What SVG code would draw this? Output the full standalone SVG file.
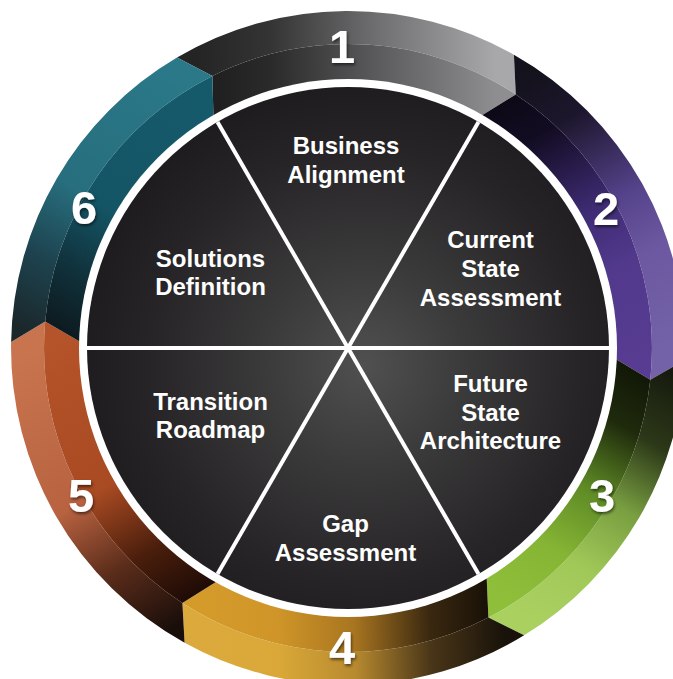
<svg xmlns="http://www.w3.org/2000/svg" width="673" height="679" viewBox="0 0 673 679">
<defs>
<style>
.lbl{font-family:"Liberation Sans",Arial,Helvetica,sans-serif;font-weight:bold;font-size:24px;fill:#ffffff;text-anchor:middle}
.num{font-family:"Liberation Sans",Arial,Helvetica,sans-serif;font-weight:bold;font-size:47px;fill:#ffffff;text-anchor:middle;filter:url(#sh)}
.spoke{stroke:#ffffff;stroke-width:4;fill:none}
</style>
<filter id="sh" x="-30%" y="-30%" width="160%" height="160%"><feDropShadow dx="1" dy="2" stdDeviation="1.5" flood-color="#000" flood-opacity="0.55"/></filter>
<radialGradient id="disk" cx="365" cy="365" r="290" gradientUnits="userSpaceOnUse">
<stop offset="0" stop-color="#505050"/><stop offset="0.35" stop-color="#3b3a3b"/><stop offset="0.75" stop-color="#262426"/><stop offset="1" stop-color="#1d1b1d"/>
</radialGradient>
<linearGradient id="g1o" gradientUnits="userSpaceOnUse" x1="195.7" y1="89.5" x2="495.7" y2="86.9"><stop offset="0" stop-color="#242424"/><stop offset="0.25" stop-color="#343434"/><stop offset="0.6" stop-color="#6e6e70"/><stop offset="1" stop-color="#a8a8aa"/></linearGradient>
<linearGradient id="g1i" gradientUnits="userSpaceOnUse" x1="195.7" y1="89.5" x2="495.7" y2="86.9"><stop offset="0" stop-color="#1c1c1c"/><stop offset="0.25" stop-color="#2a2a2a"/><stop offset="0.6" stop-color="#5a5a5c"/><stop offset="1" stop-color="#8e8e90"/></linearGradient>
<linearGradient id="g2o" gradientUnits="userSpaceOnUse" x1="495.7" y1="86.9" x2="647.8" y2="358.5"><stop offset="0" stop-color="#14121c"/><stop offset="0.2" stop-color="#1c162c"/><stop offset="0.5" stop-color="#54428a"/><stop offset="0.7" stop-color="#6b58a0"/><stop offset="1" stop-color="#7462a8"/></linearGradient>
<linearGradient id="g2i" gradientUnits="userSpaceOnUse" x1="495.7" y1="86.9" x2="647.8" y2="358.5"><stop offset="0" stop-color="#0a0812"/><stop offset="0.2" stop-color="#120c22"/><stop offset="0.5" stop-color="#3f2c75"/><stop offset="0.7" stop-color="#52398c"/><stop offset="1" stop-color="#573c92"/></linearGradient>
<linearGradient id="g3o" gradientUnits="userSpaceOnUse" x1="647.8" y1="358.5" x2="504.8" y2="603.8"><stop offset="0" stop-color="#161a0e"/><stop offset="0.25" stop-color="#2c3818"/><stop offset="0.5" stop-color="#789e40"/><stop offset="0.75" stop-color="#a0c858"/><stop offset="1" stop-color="#aad060"/></linearGradient>
<linearGradient id="g3i" gradientUnits="userSpaceOnUse" x1="647.8" y1="358.5" x2="504.8" y2="603.8"><stop offset="0" stop-color="#0d1205"/><stop offset="0.25" stop-color="#1f2a0c"/><stop offset="0.5" stop-color="#5e8a25"/><stop offset="0.75" stop-color="#86b535"/><stop offset="1" stop-color="#8fbf3a"/></linearGradient>
<linearGradient id="g4o" gradientUnits="userSpaceOnUse" x1="504.8" y1="603.8" x2="202.6" y2="610.4"><stop offset="0" stop-color="#18120a"/><stop offset="0.25" stop-color="#4a3618"/><stop offset="0.5" stop-color="#b88a30"/><stop offset="0.75" stop-color="#d9a838"/><stop offset="1" stop-color="#dcaa3c"/></linearGradient>
<linearGradient id="g4i" gradientUnits="userSpaceOnUse" x1="504.8" y1="603.8" x2="202.6" y2="610.4"><stop offset="0" stop-color="#0f0a04"/><stop offset="0.25" stop-color="#3a2810"/><stop offset="0.5" stop-color="#a87520"/><stop offset="0.75" stop-color="#cf9528"/><stop offset="1" stop-color="#d49a2a"/></linearGradient>
<linearGradient id="g5o" gradientUnits="userSpaceOnUse" x1="202.6" y1="610.4" x2="48" y2="342.8"><stop offset="0" stop-color="#1a0e0a"/><stop offset="0.25" stop-color="#5a2c1a"/><stop offset="0.5" stop-color="#b86240"/><stop offset="1" stop-color="#c8744e"/></linearGradient>
<linearGradient id="g5i" gradientUnits="userSpaceOnUse" x1="202.6" y1="610.4" x2="48" y2="342.8"><stop offset="0" stop-color="#120604"/><stop offset="0.25" stop-color="#4a1e0c"/><stop offset="0.5" stop-color="#a84a22"/><stop offset="1" stop-color="#b5532a"/></linearGradient>
<linearGradient id="g6o" gradientUnits="userSpaceOnUse" x1="48" y1="342.8" x2="195.7" y2="89.5"><stop offset="0" stop-color="#1a282c"/><stop offset="0.25" stop-color="#1e4450"/><stop offset="0.5" stop-color="#276e7e"/><stop offset="1" stop-color="#2a7888"/></linearGradient>
<linearGradient id="g6i" gradientUnits="userSpaceOnUse" x1="48" y1="342.8" x2="195.7" y2="89.5"><stop offset="0" stop-color="#0c1418"/><stop offset="0.25" stop-color="#10303a"/><stop offset="0.5" stop-color="#145565"/><stop offset="1" stop-color="#155a6b"/></linearGradient>
</defs>
<rect width="673" height="679" fill="#ffffff"/>
<g id="ring">
<g id="step1">
<path fill="url(#g1o)" d="M177.0,57.6 A337,337 0 0 1 513.9,54.7 L515.8,94.5 A304,304 0 0 0 212.4,75.9 Z"/>
<path fill="url(#g1i)" d="M212.4,75.9 A304,304 0 0 1 515.8,94.5 L478.5,117.4 A265,265 0 0 0 213.5,119.7 Z"/>
<text class="num" x="342" y="63">1</text>
</g>
<g id="step2">
<path fill="url(#g2o)" d="M513.9,54.7 A337,337 0 0 1 684.8,359.8 L650.3,379.8 A304,304 0 0 0 515.8,94.5 Z"/>
<path fill="url(#g2i)" d="M515.8,94.5 A304,304 0 0 1 650.3,379.8 L612.8,357.2 A265,265 0 0 0 478.5,117.4 Z"/>
<text class="num" x="606" y="225">2</text>
</g>
<g id="step3">
<path fill="url(#g3o)" d="M684.8,359.8 A337,337 0 0 1 524.1,635.3 L488.4,617.6 A304,304 0 0 0 650.3,379.8 Z"/>
<path fill="url(#g3i)" d="M650.3,379.8 A304,304 0 0 1 488.4,617.6 L486.5,574.0 A265,265 0 0 0 612.8,357.2 Z"/>
<text class="num" x="602" y="512">3</text>
</g>
<g id="step4">
<path fill="url(#g4o)" d="M524.1,635.3 A337,337 0 0 1 184.6,642.7 L182.4,603.0 A304,304 0 0 0 488.4,617.6 Z"/>
<path fill="url(#g4i)" d="M488.4,617.6 A304,304 0 0 1 182.4,603.0 L219.5,579.8 A265,265 0 0 0 486.5,574.0 Z"/>
<text class="num" x="342" y="664">4</text>
</g>
<g id="step5">
<path fill="url(#g5o)" d="M184.6,642.7 A337,337 0 0 1 11.1,342.1 L45.2,321.5 A304,304 0 0 0 182.4,603.0 Z"/>
<path fill="url(#g5i)" d="M182.4,603.0 A304,304 0 0 1 45.2,321.5 L83.0,343.4 A265,265 0 0 0 219.5,579.8 Z"/>
<text class="num" x="81" y="512">5</text>
</g>
<g id="step6">
<path fill="url(#g6o)" d="M11.1,342.1 A337,337 0 0 1 177.0,57.6 L212.4,75.9 A304,304 0 0 0 45.2,321.5 Z"/>
<path fill="url(#g6i)" d="M45.2,321.5 A304,304 0 0 1 212.4,75.9 L213.5,119.7 A265,265 0 0 0 83.0,343.4 Z"/>
<text class="num" x="84" y="224">6</text>
</g>
</g>
<g id="disk">
<circle cx="348" cy="348" r="269" fill="#ffffff"/>
<circle cx="348" cy="348" r="261" fill="url(#disk)"/>
</g>
<g id="connectors">
<line class="spoke" x1="217.5" y1="122" x2="478.5" y2="574"/>
<line class="spoke" x1="478.5" y1="122" x2="217.5" y2="574"/>
<line class="spoke" x1="87" y1="348" x2="609" y2="348"/>
</g>
<g id="business-alignment"><text class="lbl" x="346" y="154">Business</text><text class="lbl" x="346" y="183">Alignment</text></g>
<g id="current-state"><text class="lbl" x="490.5" y="248">Current</text><text class="lbl" x="490.5" y="277">State</text><text class="lbl" x="490.5" y="306">Assessment</text></g>
<g id="future-state"><text class="lbl" x="490.5" y="392">Future</text><text class="lbl" x="490.5" y="421">State</text><text class="lbl" x="490.5" y="449">Architecture</text></g>
<g id="gap-assessment"><text class="lbl" x="345.5" y="532">Gap</text><text class="lbl" x="345.5" y="561">Assessment</text></g>
<g id="transition-roadmap"><text class="lbl" x="210.5" y="410">Transition</text><text class="lbl" x="210.5" y="438">Roadmap</text></g>
<g id="solutions-definition"><text class="lbl" x="210.5" y="267">Solutions</text><text class="lbl" x="210.5" y="295">Definition</text></g>
</svg>
